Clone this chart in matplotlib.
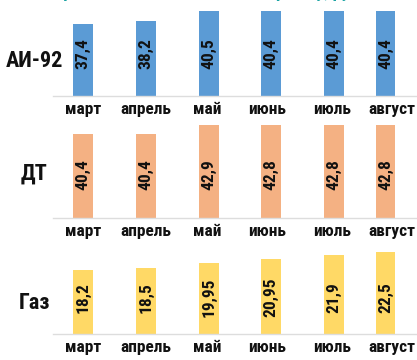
import matplotlib
matplotlib.use("Agg")
import matplotlib.pyplot as plt
from matplotlib import font_manager

months = ["март", "апрель", "май", "июнь", "июль", "август"]
fuels = ["АИ-92", "ДТ", "Газ"]
ai92 = [37.4, 38.2, 40.5, 40.4, 40.4, 40.4]
dt = [40.4, 40.4, 42.9, 42.8, 42.8, 42.8]
gas = [18.2, 18.5, 19.95, 20.95, 21.9, 22.5]
labels_ai92 = ["37,4", "38,2", "40,5", "40,4", "40,4", "40,4"]
labels_dt = ["40,4", "40,4", "42,9", "42,8", "42,8", "42,8"]
labels_gas = ["18,2", "18,5", "19,95", "20,95", "21,9", "22,5"]

names = {f.name for f in font_manager.fontManager.ttflist}
fam = None
for cand in ["Roboto Condensed", "Arial Narrow", "Liberation Sans Narrow", "PT Sans Narrow", "Archivo Narrow"]:
    if cand in names:
        fam = cand
        break
stretch = "normal"
if fam is None:
    fam = "DejaVu Sans"
    stretch = "condensed"
plt.rcParams["font.family"] = [fam, "DejaVu Sans"]
plt.rcParams["font.stretch"] = stretch

W, H = 417, 360
fig = plt.figure(figsize=(W / 100, H / 100), dpi=100)

bar_x = [0, 1, 2, 2.98, 3.98, 4.8]
tick_x = [0, 1, 1.97, 2.92, 3.95, 4.9]
colors = ["#5B9BD5", "#F4B183", "#FFD966"]
series = [ai92, dt, gas]
vlabels = [labels_ai92, labels_dt, labels_gas]
# (top px, baseline px, ymin, ymax)
panels = [(11, 96, 20.2, 40.5), (125, 218, 17.9, 42.9), (252.4, 334, 2.2, 22.5)]
rowlab_y = [61, 174, 303]
vlab_frac = [0.50, 0.47, 0.45]

left_px = 53
for i in range(3):
    top, base, y0, y1 = panels[i]
    ax = fig.add_axes([left_px / W, 1 - base / H, (W - left_px) / W, (base - top) / H])
    ax.bar(bar_x, series[i], width=0.31, color=colors[i], zorder=2)
    ax.set_ylim(y0, y1)
    ax.set_xlim(-0.476, 5.30)
    ax.set_xticks(tick_x)
    ax.set_xticklabels(months, fontsize=12.5, fontweight="bold", color="#111111")
    ax.tick_params(axis="x", length=0, pad=4)
    ax.set_yticks([])
    for s in ["top", "right", "left"]:
        ax.spines[s].set_visible(False)
    ax.spines["bottom"].set_color("#dddddd")
    ax.spines["bottom"].set_linewidth(1.0)
    ax.patch.set_alpha(0)
    for x, lab in zip(bar_x, vlabels[i]):
        ax.text(x, vlab_frac[i], lab, transform=ax.get_xaxis_transform(),
                rotation=90, ha="center", va="center", fontsize=12.5,
                fontweight="bold", color="#111111", zorder=3)
    fig.text(34 / W, 1 - rowlab_y[i] / H, fuels[i], ha="center", va="center",
             fontsize=16, fontweight="bold", color="#111111")

fig.text(0.5, 1.022, "Средние цены на топливо по рынку, руб.", ha="center", va="center",
         fontsize=13, fontweight="bold", color="#1AA3A3")

fig.savefig("out.png", dpi=100)
